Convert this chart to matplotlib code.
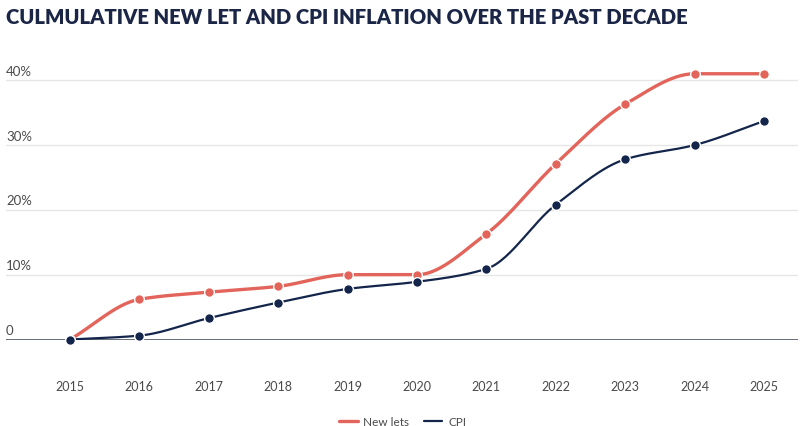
import numpy as np
import matplotlib.pyplot as plt

years = [2015, 2016, 2017, 2018, 2019, 2020, 2021, 2022, 2023, 2024, 2025]
new_lets = [0, 6.2, 7.3, 8.2, 10.0, 10.0, 16.3, 27.1, 36.3, 41.0, 41.0]
cpi = [0, 0.6, 3.3, 5.7, 7.8, 8.9, 10.9, 20.8, 27.8, 30.0, 33.7]
y_ticks = [0, 10, 20, 30, 40]
y_labels = ['0', '10%', '20%', '30%', '40%']

red = '#e2645a'
navy = '#13254a'
plt.rcParams['font.family'] = ['Lato', 'DejaVu Sans']


def pchip(x, y, n=30):
    # monotone cubic curve through the points, for drawing only
    x = np.asarray(x, float)
    y = np.asarray(y, float)
    h = np.diff(x)
    d = np.diff(y) / h
    m = np.zeros_like(y)
    m[0], m[-1] = d[0], d[-1]
    for i in range(1, len(y) - 1):
        if d[i - 1] * d[i] > 0:
            m[i] = 2 / (1 / d[i - 1] + 1 / d[i])
    xs, ys = [], []
    for i in range(len(x) - 1):
        t = np.linspace(0, 1, n)
        h00 = 2 * t**3 - 3 * t**2 + 1
        h10 = t**3 - 2 * t**2 + t
        h01 = -2 * t**3 + 3 * t**2
        h11 = t**3 - t**2
        xs.append(x[i] + t * h[i])
        ys.append(h00 * y[i] + h10 * h[i] * m[i] + h01 * y[i + 1] + h11 * h[i] * m[i + 1])
    return np.concatenate(xs), np.concatenate(ys)


fig = plt.figure(figsize=(8.05, 4.27), dpi=100)
ax = fig.add_axes([6 / 805, 86.5 / 427, 792 / 805, 280 / 427])
ax.set_xlim(2015 - 64 / 69.4, 2025 + 34 / 69.4)
ax.set_ylim(0, 43.2)

for t in y_ticks[1:]:
    ax.axhline(t, color='#e6e6e6', lw=1, zorder=0)
ax.axhline(0, color='#3e4654', lw=1.1, zorder=1)

for t, lab in zip(y_ticks, y_labels):
    ax.annotate(lab, (0, t), xycoords=('axes fraction', 'data'),
                xytext=(0, 2.5), textcoords='offset points',
                ha='left', va='bottom', fontsize=9.5, color='#4a4a4a')

xs, ys = pchip(years, new_lets)
ax.plot(xs, ys, color=red, lw=2.4, zorder=3, label='New lets', solid_capstyle='round')
ax.plot(years, new_lets, 'o', color=red, ms=7, mec='white', mew=1, zorder=4, clip_on=False)
xs, ys = pchip(years, cpi)
ax.plot(xs, ys, color=navy, lw=1.6, zorder=3, label='CPI', solid_capstyle='round')
ax.plot(years, cpi, 'o', color=navy, ms=7, mec='white', mew=1, zorder=4, clip_on=False)

ax.set_xticks(years)
ax.set_xticklabels([str(y) for y in years])
ax.tick_params(axis='x', length=0, pad=29, labelsize=9, labelcolor='#4a4a4a')
ax.set_yticks([])
for s in ax.spines.values():
    s.set_visible(False)

fig.text(6 / 805, 1 - 17 / 427, 'CULMULATIVE NEW LET AND CPI INFLATION OVER THE PAST DECADE',
         ha='left', va='center', fontsize=14.6, fontweight='heavy', color='#1b2647')

fig.legend(loc='center', bbox_to_anchor=(0.5, 1 - 422.5 / 427), ncol=2, frameon=False,
           fontsize=8.5, handlelength=1.6, columnspacing=1.2, handletextpad=0.5,
           labelcolor='#4a4a4a')

fig.savefig('out.png', dpi=100)
